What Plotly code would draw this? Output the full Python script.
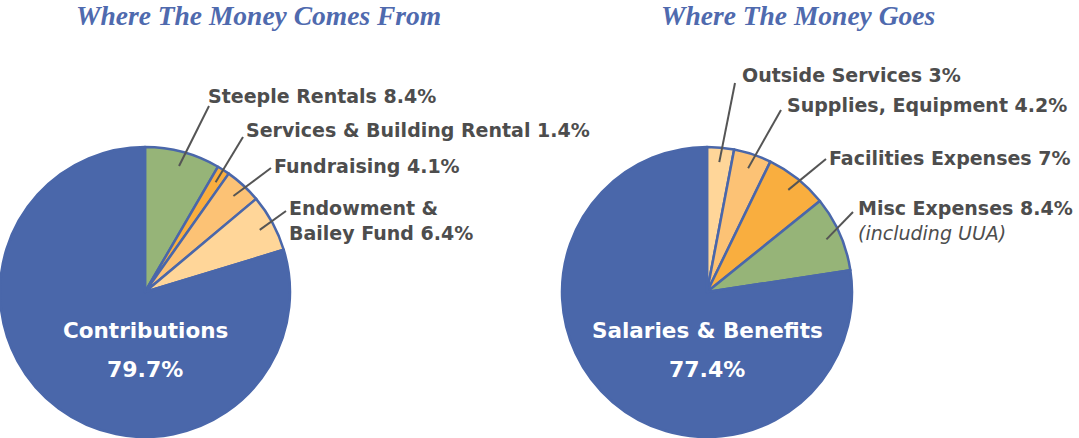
import math
import plotly.graph_objects as go

W, H = 1079, 438

# ---- data ----
income_labels = ["Steeple Rentals", "Services & Building Rental", "Fundraising",
                 "Endowment & Bailey Fund", "Contributions"]
income_values = [8.4, 1.4, 4.1, 6.4, 79.7]
expense_labels = ["Outside Services", "Supplies, Equipment", "Facilities Expenses",
                  "Misc Expenses", "Salaries & Benefits"]
expense_values = [3, 4.2, 7, 8.4, 77.4]
titles = ["Where The Money Comes From", "Where The Money Goes"]

# ---- style ----
BLUE = "#4A67AA"
GREEN = "#96B478"
ORANGE = "#F9AE3F"
LORANGE = "#FCC275"
PALE = "#FFD699"
TXT = "#4D4D4D"
income_colors = [GREEN, ORANGE, LORANGE, PALE, BLUE]
expense_colors = [PALE, LORANGE, ORANGE, GREEN, BLUE]

# pie geometry in pixels: (left, top, diameter)
pies = [(0, 147, 290), (562, 147, 290)]


def px_x(x):
    return x / W


def px_y(y):
    return 1 - y / H


fig = go.Figure()
for (left, top, d), vals, labs, cols in [
    (pies[0], income_values, income_labels, income_colors),
    (pies[1], expense_values, expense_labels, expense_colors),
]:
    fig.add_trace(go.Pie(
        values=vals, labels=labs, sort=False, direction="clockwise", rotation=0,
        marker=dict(colors=cols, line=dict(color=BLUE, width=2.5)),
        textinfo="none", hoverinfo="label+value", showlegend=False,
        domain=dict(x=[px_x(left), px_x(left + d)], y=[px_y(top + d), px_y(top)]),
    ))

annotations = []
shapes = []

# titles
for t, cx in zip(titles, [258, 798]):
    annotations.append(dict(
        text=t, x=px_x(cx), y=px_y(15), xref="paper", yref="paper",
        showarrow=False, xanchor="center", yanchor="middle",
        font=dict(family="Liberation Serif", size=27.5, color="#4F6AAE",
                  style="italic", weight="bold")))

# outside labels: (text, label x, label y, line end x, line end y)
income_text = [
    ("Steeple Rentals 8.4%", 206, 96, 209, 106),
    ("Services & Building Rental 1.4%", 244, 130, 243, 137),
    ("Fundraising 4.1%", 272, 166, 271, 168),
    ("Endowment &<br>Bailey Fund 6.4%", 287, 220, 286, 211),
]
expense_text = [
    ("Outside Services 3%", 740, 75, 735, 83),
    ("Supplies, Equipment 4.2%", 785, 105, 781, 110),
    ("Facilities Expenses 7%", 827, 158, 826, 159),
    ("Misc Expenses 8.4%<br><span style='font-weight:normal'><i>(including UUA)</i></span>",
     856, 220, 853, 212),
]

for (left, top, d), vals, texts in [
    (pies[0], income_values, income_text),
    (pies[1], expense_values, expense_text),
]:
    cx, cy, R = left + d / 2, top + d / 2, d / 2
    total = sum(vals)
    cum = 0
    for i, v in enumerate(vals):
        mid = (cum + v / 2) / total * 2 * math.pi
        cum += v
        if i >= len(texts):
            continue
        txt, lx, ly, ex, ey = texts[i]
        sx = cx + 0.9 * R * math.sin(mid)
        sy = cy - 0.9 * R * math.cos(mid)
        shapes.append(dict(type="line", xref="paper", yref="paper",
                           x0=px_x(sx), y0=px_y(sy), x1=px_x(ex), y1=px_y(ey),
                           line=dict(color="#555555", width=2)))
        annotations.append(dict(
            text=txt, x=px_x(lx), y=px_y(ly), xref="paper", yref="paper",
            showarrow=False, xanchor="left", yanchor="middle", align="left",
            font=dict(family="DejaVu Sans", size=19, color=TXT, weight="bold")))

# centre labels for the large slices
for (left, top, d), labs, vals in [
    (pies[0], income_labels, income_values),
    (pies[1], expense_labels, expense_values),
]:
    cx = left + d / 2
    annotations.append(dict(
        text=labs[-1], x=px_x(cx), y=px_y(330), xref="paper", yref="paper",
        showarrow=False, xanchor="center", yanchor="middle",
        font=dict(family="DejaVu Sans", size=21.5, color="white", weight="bold")))
    annotations.append(dict(
        text=f"{vals[-1]}%", x=px_x(cx), y=px_y(369), xref="paper", yref="paper",
        showarrow=False, xanchor="center", yanchor="middle",
        font=dict(family="DejaVu Sans", size=22, color="white", weight="bold")))

fig.update_layout(
    width=W, height=H, margin=dict(l=0, r=0, t=0, b=0),
    paper_bgcolor="white", plot_bgcolor="white",
    annotations=annotations, shapes=shapes,
)

fig.write_html("out.html", config={"displayModeBar": False},
               post_script="document.body.style.margin='0';")
